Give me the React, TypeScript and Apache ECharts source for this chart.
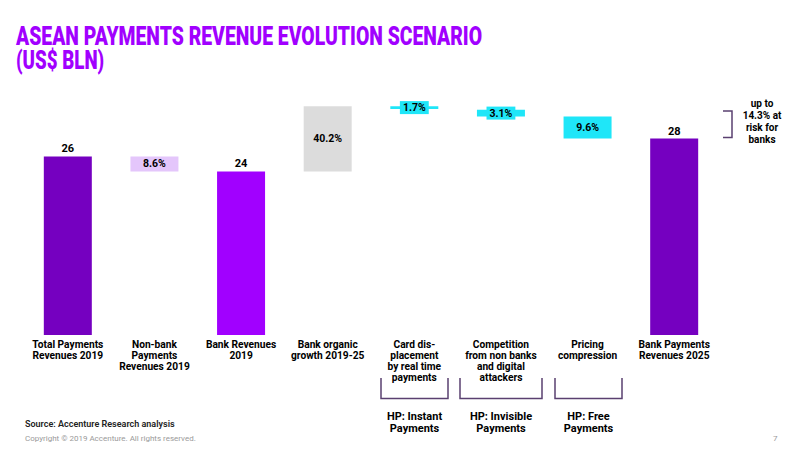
import React, { useEffect, useRef } from "react";
import * as echarts from "echarts";

const categories = [
  "Total Payments\nRevenues 2019",
  "Non-bank\nPayments\nRevenues 2019",
  "Bank Revenues\n2019",
  "Bank organic\ngrowth 2019-25",
  "Card dis-\nplacement\nby real time\npayments",
  "Competition\nfrom non banks\nand digital\nattackers",
  "Pricing\ncompression",
  "Bank Payments\nRevenues 2025",
];
// invisible base of each floating bar (US$ bln)
const barBase = [0, 23.8, 0, 23.8, 32.9, 31.8, 28.6, 0];
// visible height of each bar (US$ bln)
const barHeight = [26.0, 2.2, 23.8, 9.5, 0.4, 1.0, 3.2, 28.6];
const valueLabels = ["26", "8.6%", "24", "40.2%", "1.7%", "3.1%", "9.6%", "28"];
const barKinds = ["total", "nonbank", "bank", "growth", "risk", "risk", "risk", "total"];
const hpLabels = ["HP: Instant\nPayments", "HP: Invisible\nPayments", "HP: Free\nPayments"];
const riskNote = "up to\n14.3% at\nrisk for\nbanks";

const kindColor: Record<string, string> = {
  total: "#7500C0",
  bank: "#A100FF",
  nonbank: "#E4C6FB",
  growth: "#DCDCDC",
  risk: "#1FE6F8",
};

const FONT = "Roboto, 'Open Sans', sans-serif";

export default function App() {
  const ref = useRef<HTMLDivElement>(null);
  useEffect(() => {
    if (!ref.current) return;
    const chart = echarts.init(ref.current, undefined, { renderer: "svg" });
    const visibleData = barHeight.map((v, i) => {
      const kind = barKinds[i];
      const isTotal = kind === "total" || kind === "bank";
      const isRisk = kind === "risk";
      return {
        value: v,
        itemStyle: { color: kindColor[kind] },
        label: {
          show: true,
          formatter: valueLabels[i],
          position: isTotal ? "top" : "inside",
          distance: 2,
          color: "#000",
          fontWeight: "bold",
          fontSize: isTotal ? 11 : 10.5,
          fontFamily: FONT,
          backgroundColor: isRisk ? kindColor.risk : "transparent",
          padding: isRisk ? [1, 3, 1, 3] : 0,
        },
      };
    });
    const bracketColor = "#5A4070";
    const brackets = [
      [381, 448],
      [460, 542],
      [555, 622],
    ];
    const graphics: any[] = [
      {
        type: "text",
        left: 16,
        top: 23,
        scaleX: 0.745,
        style: {
          text: "ASEAN PAYMENTS REVENUE EVOLUTION SCENARIO",
          fill: "#A100FF",
          font: `900 26px ${FONT}`,
        },
      },
      {
        type: "text",
        left: 16,
        top: 47,
        scaleX: 0.72,
        style: {
          text: "(US$ BLN)",
          fill: "#A100FF",
          font: `900 26px ${FONT}`,
        },
      },
      {
        type: "text",
        x: 25,
        y: 424,
        style: {
          text: "Source: Accenture Research analysis",
          fill: "#222",
          font: `600 9px ${FONT}`,
          textVerticalAlign: "middle",
        },
      },
      {
        type: "text",
        x: 25,
        y: 438,
        style: {
          text: "Copyright © 2019 Accenture. All rights reserved.",
          fill: "#9A9A9A",
          font: `400 8px ${FONT}`,
          textVerticalAlign: "middle",
        },
      },
      {
        type: "text",
        x: 773,
        y: 438,
        style: {
          text: "7",
          fill: "#9A9A9A",
          font: `400 8px ${FONT}`,
          textVerticalAlign: "middle",
        },
      },
      {
        type: "polyline",
        shape: { points: [[723, 111], [732, 111], [732, 137.5], [723, 137.5]] },
        style: { stroke: bracketColor, lineWidth: 1.5, fill: "none" },
      },
      {
        type: "text",
        x: 762,
        y: 97,
        style: {
          text: riskNote,
          fill: "#000",
          font: `bold 10px ${FONT}`,
          lineHeight: 12,
          textAlign: "center",
          textVerticalAlign: "top",
        },
      },
    ];
    brackets.forEach(([x0, x1], i) => {
      graphics.push({
        type: "polyline",
        shape: { points: [[x0, 378], [x0, 398.5], [x1, 398.5], [x1, 378]] },
        style: { stroke: bracketColor, lineWidth: 1.5, fill: "none" },
      });
      graphics.push({
        type: "text",
        x: (x0 + x1) / 2,
        y: 410,
        style: {
          text: hpLabels[i],
          fill: "#000",
          font: `bold 11px ${FONT}`,
          lineHeight: 12,
          textAlign: "center",
          textVerticalAlign: "top",
        },
      });
    });

    chart.setOption({
      animation: false,
      backgroundColor: "#fff",
      grid: { left: 24.5, right: 82.5, top: 60.2, bottom: 115, containLabel: false },
      xAxis: {
        type: "category",
        data: categories,
        axisLine: { show: false },
        axisTick: { show: false },
        axisLabel: {
          interval: 0,
          margin: 4,
          color: "#000",
          fontWeight: "bold",
          fontSize: 10.2,
          lineHeight: 11,
          fontFamily: FONT,
          verticalAlign: "top",
        },
      },
      yAxis: { type: "value", min: 0, max: 40, show: false, splitLine: { show: false } },
      series: [
        {
          type: "bar",
          stack: "w",
          barWidth: 48,
          data: barBase,
          itemStyle: { color: "transparent" },
          silent: true,
        },
        {
          type: "bar",
          stack: "w",
          barWidth: 48,
          data: visibleData,
        },
      ],
      graphic: graphics,
    });
    return () => chart.dispose();
  }, []);
  return (
    <div
      ref={ref}
      style={{ position: "fixed", left: 0, top: 0, width: 800, height: 450, background: "#fff" }}
    />
  );
}
